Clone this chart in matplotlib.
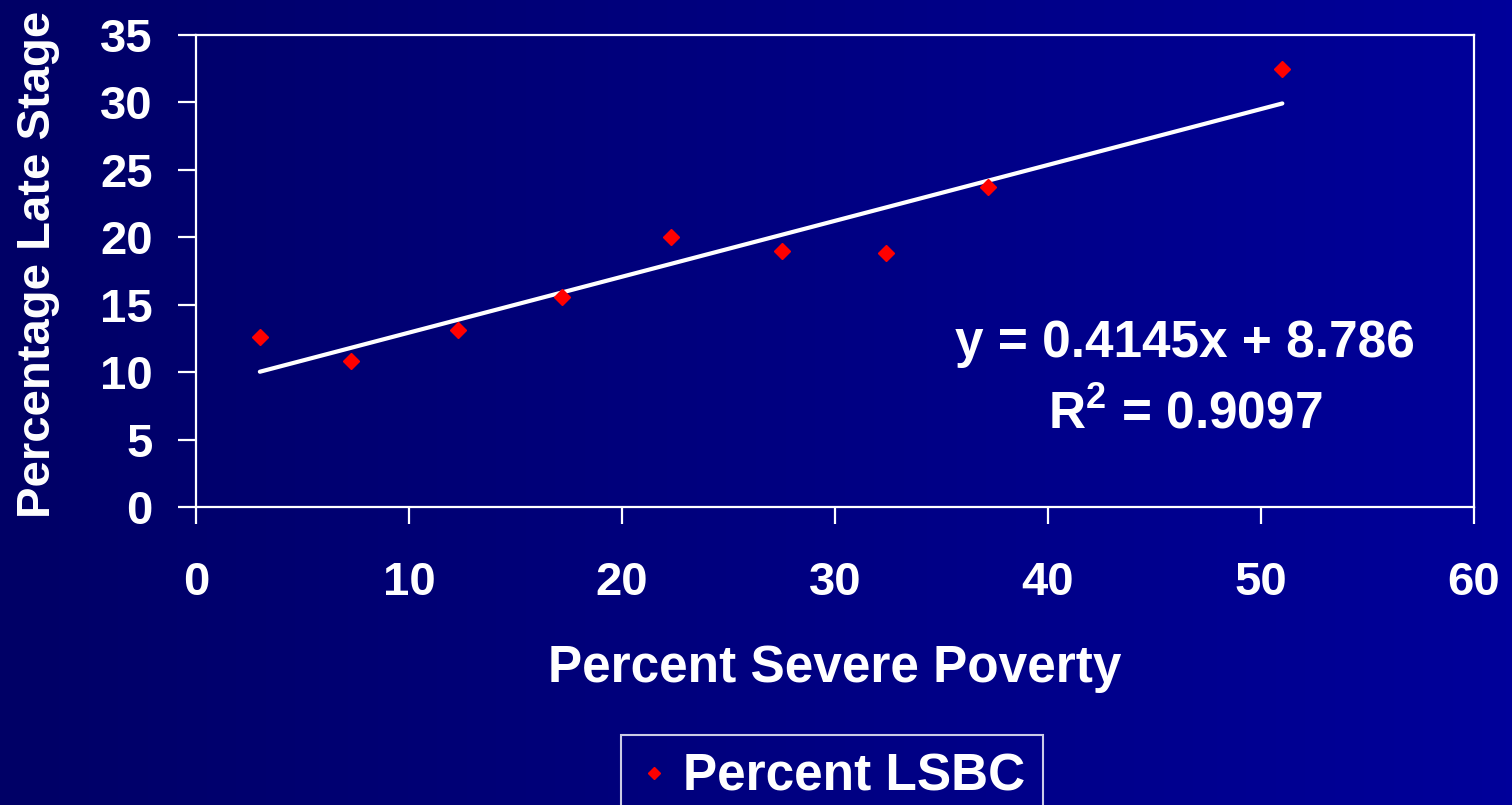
import numpy as np
import matplotlib
matplotlib.use("Agg")
import matplotlib.pyplot as plt
from matplotlib.colors import LinearSegmentedColormap

# data
poverty = [3.0, 7.3, 12.3, 17.2, 22.3, 27.5, 32.4, 37.2, 51.0]
late_stage = [12.6, 10.8, 13.1, 15.6, 20.0, 19.0, 18.8, 23.7, 32.5]
slope = 0.4145
intercept = 8.786
r_squared = 0.9097

xticks = [0, 10, 20, 30, 40, 50, 60]
yticks = [0, 5, 10, 15, 20, 25, 30, 35]

plt.rcParams['font.family'] = ['Liberation Sans', 'DejaVu Sans']
plt.rcParams['font.weight'] = 'bold'
plt.rcParams['mathtext.fontset'] = 'custom'
plt.rcParams['mathtext.bf'] = 'Liberation Sans:bold'

fig = plt.figure(figsize=(15.12, 8.05), dpi=100)

# dark blue horizontal gradient background
bg = fig.add_axes([0, 0, 1, 1], zorder=-10)
cmap = LinearSegmentedColormap.from_list('bg', ['#000066', '#00009a'])
bg.imshow(np.linspace(0, 1, 256).reshape(1, -1), aspect='auto', cmap=cmap,
          extent=[0, 1, 0, 1])
bg.axis('off')

ax = fig.add_axes([0.1296, 0.3702, 0.8453, 0.5863])
ax.patch.set_alpha(0)

ax.plot(poverty, late_stage, linestyle='none', marker='D', color='#ff0000',
        markersize=8.5, label='Percent LSBC', zorder=3)

xs = np.array([min(poverty), max(poverty)])
ax.plot(xs, slope * xs + intercept, color='white', linewidth=3,
        solid_capstyle='round', zorder=2)

ax.set_xlim(0, 60)
ax.set_ylim(0, 35)
ax.set_xticks(xticks)
ax.set_yticks(yticks)

for s in ax.spines.values():
    s.set_color('white')
    s.set_linewidth(1.6)

ax.tick_params(axis='x', colors='white', direction='out', length=12, width=1.6,
               pad=27, labelsize=34)
ax.tick_params(axis='y', colors='white', direction='out', length=13, width=1.6,
               pad=18, labelsize=34)
for lab in ax.get_xticklabels() + ax.get_yticklabels():
    lab.set_fontweight('bold')

ax.set_xlabel('Percent Severe Poverty', color='white', fontsize=37,
              fontweight='bold', labelpad=28)
ax.set_ylabel('Percentage Late Stage', color='white', fontsize=34,
              fontweight='bold')
ax.yaxis.set_label_coords(-0.106, 0.515)

ax.text(0.774, 0.347, f'y = {slope}x + {intercept}', transform=ax.transAxes,
        color='white', fontsize=37, fontweight='bold', ha='center', va='center')
ax.text(0.774, 0.196, f'R$^{{\\mathbf{{2}}}}$ = {r_squared}', transform=ax.transAxes,
        color='white', fontsize=37, fontweight='bold', ha='center', va='center')

leg = fig.legend(loc='upper center', bbox_to_anchor=(832 / 1512, 1 - 735 / 805),
                 frameon=True, fontsize=37, markerscale=0.7, handletextpad=0.27,
                 borderpad=0.35, borderaxespad=0, handlelength=0.6,
                 fancybox=False)
leg.get_frame().set_facecolor('none')
leg.get_frame().set_edgecolor('white')
leg.get_frame().set_linewidth(1.5)
for t in leg.get_texts():
    t.set_color('white')
    t.set_fontweight('bold')

fig.savefig('out.png', dpi=100)
